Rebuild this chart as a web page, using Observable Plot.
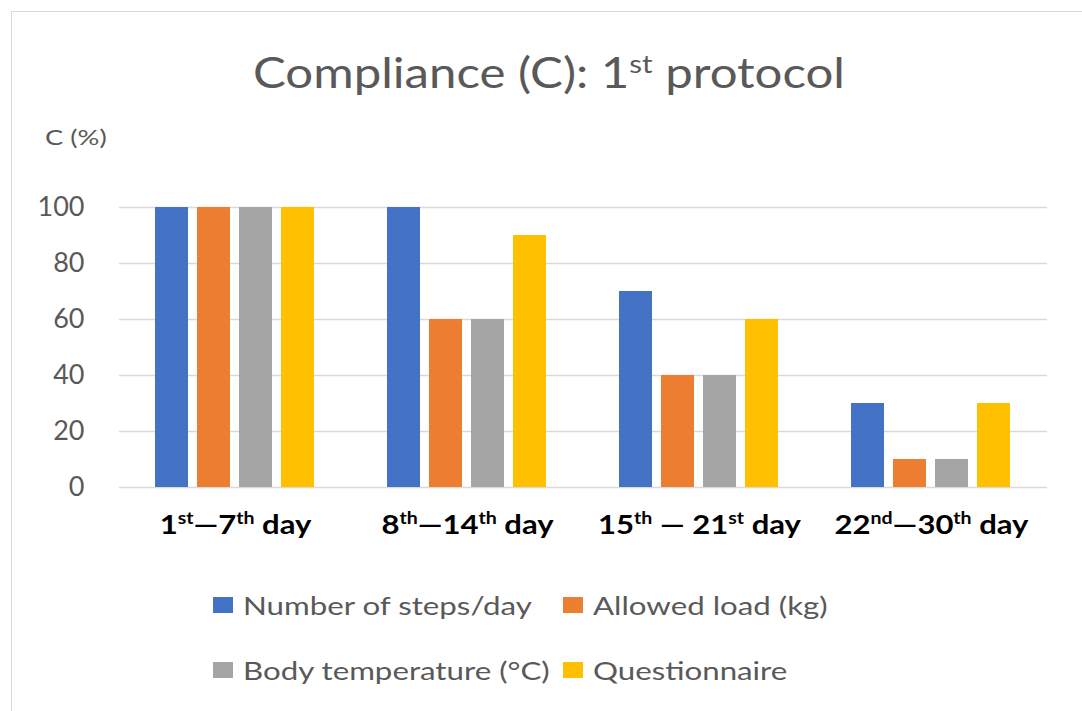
<!DOCTYPE html>
<html><head><meta charset="utf-8">
<script src="https://cdn.jsdelivr.net/npm/d3@7"></script>
<script src="https://cdn.jsdelivr.net/npm/@observablehq/plot@0.6"></script>
<style>
body{margin:0;background:#fff;font-family:Lato,"Open Sans",sans-serif;width:1082px;height:711px;overflow:hidden;position:relative;}
#frame{position:absolute;left:11px;top:11px;width:1090px;height:720px;border-left:1.5px solid #d9d9d9;border-top:1.5px solid #d9d9d9;}
#title{position:absolute;left:0;width:1098px;top:51px;text-align:center;font-size:42px;color:#595959;line-height:1;transform:scaleX(1.17);transform-origin:50% 50%;white-space:nowrap;}
#title sup{font-size:0.6em;vertical-align:0.6em;line-height:0;}
#ylabel{position:absolute;left:45px;top:126px;font-size:21px;line-height:1;color:#595959;transform:scaleX(1.3);transform-origin:0 50%;white-space:nowrap;}
#chart{position:absolute;left:0;top:120px;}
.row{position:absolute;left:213px;height:30px;width:800px;}
.item{position:absolute;top:0;height:30px;display:flex;align-items:center;color:#595959;font-size:25px;white-space:nowrap;}
.sw{width:20px;height:16px;margin-right:10px;flex:none;}
.lab{display:inline-block;transform:scaleX(1.25);transform-origin:0 50%;line-height:1;}
</style></head>
<body>
<div id="frame"></div>
<div id="title">Compliance (C): 1<sup>st</sup> protocol</div>
<div id="ylabel">C (%)</div>
<div id="chart"></div>
<div id="legend"></div>
<script>
const categories = ["1st—7th day", "8th—14th day", "15th — 21st day", "22nd—30th day"];
const seriesNames = ["Number of steps/day", "Allowed load (kg)", "Body temperature (°C)", "Questionnaire"];
const stepsValues = [100, 100, 70, 30];
const loadValues = [100, 60, 40, 10];
const temperatureValues = [100, 60, 40, 10];
const questionnaireValues = [100, 90, 60, 30];
const seriesColors = ["#4472C4", "#ED7D31", "#A5A5A5", "#FFC000"];
const yTicks = [0, 20, 40, 60, 80, 100];

const valuesBySeries = [stepsValues, loadValues, temperatureValues, questionnaireValues];
const data = categories.flatMap((cat, i) =>
  seriesNames.map((s, j) => ({cat, series: s, value: valuesBySeries[j][i]})));

const chart = Plot.plot({
  width: 1082, height: 450,
  marginTop: 87, marginBottom: 83, marginLeft: 117, marginRight: 34,
  style: {fontFamily: "Lato, 'Open Sans', sans-serif", background: "transparent", overflow: "visible"},
  fx: {domain: categories, padding: 0, label: null},
  x: {domain: seriesNames, paddingInner: 0.21, paddingOuter: 0.81, axis: null},
  y: {domain: [0, 100], label: null},
  color: {domain: seriesNames, range: seriesColors},
  marks: [
    Plot.gridY(yTicks, {stroke: "#d9d9d9", strokeOpacity: 1, strokeWidth: 1.5}),
    Plot.axisY(yTicks, {tickSize: 0, tickPadding: 35, fontSize: 27, fill: "#595959", label: null}),
    Plot.barY(data, {fx: "cat", x: "series", y: "value", fill: "series"}),
    Plot.axisFx({anchor: "bottom", tickSize: 0, tickPadding: 27, fontSize: 27, fontWeight: "bold", fill: "#000", label: null})
  ]
});
document.getElementById("chart").appendChild(chart);

// superscript ordinal suffixes in category labels, slight horizontal stretch
d3.select(chart).selectAll('g[aria-label="fx-axis tick label"] text').each(function() {
  const t = this.textContent;
  const parts = t.split(/(st|nd|rd|th)(?=\s|—|$)/);
  const sel = d3.select(this);
  sel.text(null);
  let raised = false;
  parts.forEach(p => {
    if (!p) return;
    const isSup = /^(st|nd|rd|th)$/.test(p);
    const ts = sel.append("tspan").text(p);
    if (isSup) { ts.attr("font-size", 17).attr("dy", -10); raised = true; }
    else if (raised) { ts.attr("dy", 10); raised = false; }
  });
  const tr = sel.attr("transform") || "";
  sel.attr("transform", tr + " scale(1.15,1)");
});

// legend: two rows, two columns
const legend = d3.select("#legend");
const rowTops = [590, 655];
const colLefts = [0, 350];
const layout = [[0, 1], [2, 3]];
layout.forEach((r, ri) => {
  const row = legend.append("div").attr("class", "row").style("top", rowTops[ri] + "px");
  r.forEach((j, ci) => {
    const it = row.append("div").attr("class", "item").style("left", colLefts[ci] + "px");
    it.append("div").attr("class", "sw").style("background", seriesColors[j]);
    it.append("span").attr("class", "lab").text(seriesNames[j]);
  });
});
</script>
</body></html>
